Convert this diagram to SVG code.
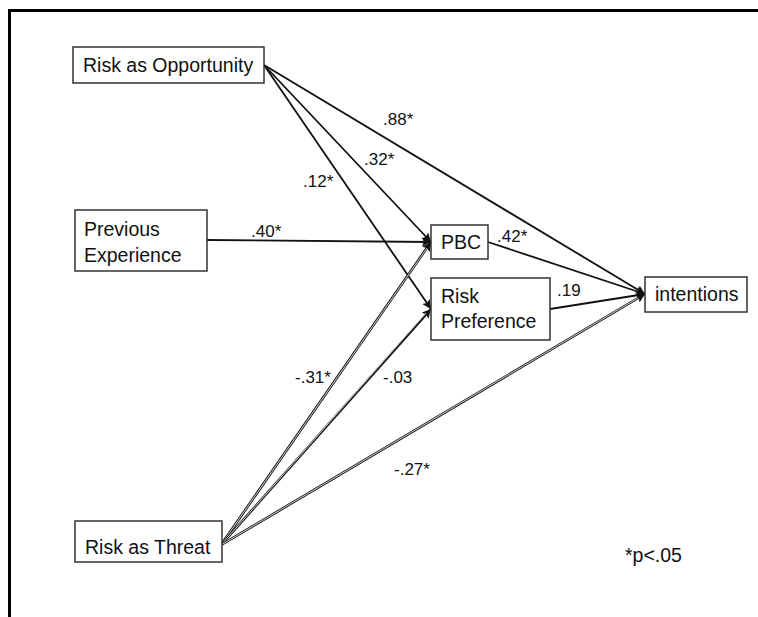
<svg xmlns="http://www.w3.org/2000/svg" width="758" height="617" viewBox="0 0 758 617">
<defs>
<style>
.box{fill:#fff;stroke:#333;stroke-width:1.5}
.t{font-family:"Liberation Sans",Arial,sans-serif;font-size:19.5px;fill:#111}
.l{font-family:"Liberation Sans",Arial,sans-serif;font-size:17px;fill:#111}
.s{fill:none;stroke:#111;stroke-width:1.8}
.d{fill:none;stroke:#1a1a1a;stroke-width:2.6}
.di{fill:none;stroke:#fff;stroke-width:0.8}
</style>
<marker id="ah" viewBox="0 0 10 10" refX="10" refY="5" markerWidth="9" markerHeight="9" markerUnits="userSpaceOnUse" orient="auto">
<path d="M0,0 L10,5 L0,10 L2,5 Z" fill="#111"/>
</marker>
</defs>
<rect width="758" height="617" fill="#fff"/>
<g id="frame">
<line x1="8" y1="10.5" x2="758" y2="10.5" stroke="#000" stroke-width="3"/>
<line x1="9.5" y1="9" x2="9.5" y2="617" stroke="#000" stroke-width="3"/>
</g>
<g id="connectors">
<line class="s" x1="264" y1="65" x2="645" y2="294" marker-end="url(#ah)"/>
<line class="s" x1="264" y1="65" x2="431" y2="242" marker-end="url(#ah)"/>
<line class="s" x1="264" y1="65" x2="431" y2="309" marker-end="url(#ah)"/>
<line class="s" x1="207" y1="240" x2="431" y2="242" stroke-width="2.2" marker-end="url(#ah)"/>
<line class="s" x1="488" y1="242" x2="645" y2="294" marker-end="url(#ah)"/>
<line class="s" x1="550" y1="309" x2="645" y2="294" stroke-width="2.2" marker-end="url(#ah)"/>
<line class="d" x1="221" y1="545" x2="431" y2="242" marker-end="url(#ah)"/>
<line class="di" x1="221" y1="545" x2="427" y2="248"/>
<line class="d" x1="221" y1="545" x2="431" y2="309" marker-end="url(#ah)"/>
<line class="di" x1="221" y1="545" x2="426" y2="313"/>
<line class="d" x1="221" y1="545" x2="645" y2="294" marker-end="url(#ah)"/>
<line class="di" x1="221" y1="545" x2="638" y2="298"/>
</g>
<g id="labels">
<text class="l" x="383" y="125">.88*</text>
<text class="l" x="364" y="165">.32*</text>
<text class="l" x="303" y="187">.12*</text>
<text class="l" x="251" y="237">.40*</text>
<text class="l" x="497" y="242">.42*</text>
<text class="l" x="557" y="296">.19</text>
<text class="l" x="295" y="383">-.31*</text>
<text class="l" x="383" y="383">-.03</text>
<text class="l" x="394" y="475">-.27*</text>
<text class="t" x="625" y="562">*p&lt;.05</text>
</g>
<g id="risk-opportunity">
<rect class="box" x="73" y="47" width="191" height="36"/>
<text class="t" x="83" y="72">Risk as Opportunity</text>
</g>
<g id="previous-experience">
<rect class="box" x="75" y="210" width="132" height="61"/>
<text class="t" x="84" y="236">Previous</text>
<text class="t" x="84" y="262">Experience</text>
</g>
<g id="pbc">
<rect class="box" x="431" y="225" width="57" height="34"/>
<text class="t" x="441" y="249">PBC</text>
</g>
<g id="risk-preference">
<rect class="box" x="431" y="278" width="119" height="62"/>
<text class="t" x="441" y="303">Risk</text>
<text class="t" x="441" y="328">Preference</text>
</g>
<g id="intentions">
<rect class="box" x="645" y="277" width="102" height="35"/>
<text class="t" x="655" y="301">intentions</text>
</g>
<g id="risk-threat">
<rect class="box" x="75" y="521" width="147" height="41"/>
<text class="t" x="85" y="554">Risk as Threat</text>
</g>
</svg>
